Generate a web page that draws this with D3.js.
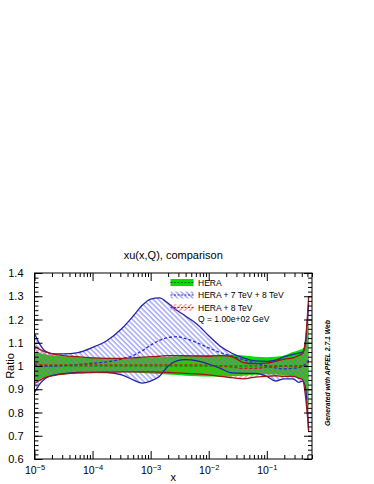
<!DOCTYPE html>
<html lang="en">
<head>
<meta charset="utf-8">
<title>xu(x,Q), comparison</title>
<script src="https://cdn.jsdelivr.net/npm/d3@7"></script>
<style>
  body { margin: 0; background: #fff; }
  text { font-family: "Liberation Sans", Arial, sans-serif; fill: #000; }
</style>
</head>
<body>
<script>
// x grid (log spaced)
var xs = [1e-5, 1.26e-5, 1.58e-5, 2.24e-5, 3.16e-5, 5.62e-5, 1e-4, 1.78e-4, 3.16e-4, 5.01e-4,
          7.08e-4, 1e-3, 1.41e-3, 2e-3, 2.82e-3, 3.98e-3, 6.31e-3, 1e-2, 1.58e-2, 2.51e-2,
          3.98e-2, 6.31e-2, 0.1, 0.141, 0.2, 0.282, 0.355, 0.417, 0.468, 0.525];

// HERA
var heraLo  = [0.930, 0.945, 0.955, 0.962, 0.966, 0.970, 0.972, 0.973, 0.973, 0.972,
               0.970, 0.968, 0.966, 0.963, 0.961, 0.958, 0.956, 0.955, 0.955, 0.956,
               0.958, 0.962, 0.965, 0.963, 0.960, 0.955, 0.950, 0.940, 0.900, 0.810];
var heraMid = [1, 1, 1, 1, 1, 1, 1, 1, 1, 1, 1, 1, 1, 1, 1, 1, 1, 1, 1, 1, 1, 1, 1, 1, 1, 1, 1, 1, 1, 1];
var heraHi  = [1.060, 1.055, 1.050, 1.045, 1.042, 1.038, 1.035, 1.033, 1.032, 1.033,
               1.035, 1.037, 1.038, 1.040, 1.042, 1.044, 1.046, 1.047, 1.048, 1.050,
               1.045, 1.040, 1.038, 1.040, 1.045, 1.060, 1.068, 1.075, 1.110, 1.190];

// HERA + 7 TeV + 8 TeV
var atlLo  = [0.885, 0.925, 0.948, 0.962, 0.967, 0.972, 0.973, 0.972, 0.962, 0.940,
              0.926, 0.935, 0.955, 1.000, 1.022, 1.027, 1.022, 1.008, 0.990, 0.970,
              0.968, 0.968, 0.955, 0.935, 0.945, 0.945, 0.930, 0.935, 0.900, 0.720];
var atlMid = [1.005, 1.000, 1.000, 1.000, 1.002, 1.006, 1.012, 1.018, 1.030, 1.045,
              1.065, 1.090, 1.110, 1.122, 1.126, 1.118, 1.100, 1.078, 1.058, 1.042,
              1.027, 1.012, 1.000, 0.992, 0.988, 0.990, 0.993, 1.000, 1.010, 1.025];
var atlHi  = [1.140, 1.090, 1.062, 1.052, 1.052, 1.058, 1.080, 1.110, 1.160, 1.215,
              1.260, 1.288, 1.293, 1.270, 1.240, 1.215, 1.180, 1.130, 1.085, 1.055,
              1.035, 1.022, 1.020, 1.025, 1.040, 1.050, 1.055, 1.060, 1.110, 1.270];

// HERA + 8 TeV
var cmsLo  = [0.925, 0.940, 0.952, 0.960, 0.965, 0.970, 0.972, 0.974, 0.975, 0.975,
              0.975, 0.975, 0.974, 0.972, 0.970, 0.968, 0.966, 0.962, 0.955, 0.950,
              0.945, 0.952, 0.955, 0.958, 0.955, 0.955, 0.948, 0.940, 0.860, 0.725];
var cmsMid = [1.010, 1.006, 1.005, 1.005, 1.005, 1.005, 1.005, 1.005, 1.005, 1.005,
              1.005, 1.005, 1.005, 1.005, 1.005, 1.005, 1.005, 1.003, 1.000, 0.995,
              0.990, 0.990, 0.995, 1.000, 1.000, 1.000, 1.000, 1.000, 1.000, 1.020];
var cmsHi  = [1.085, 1.070, 1.060, 1.050, 1.045, 1.040, 1.035, 1.033, 1.033, 1.035,
              1.038, 1.040, 1.042, 1.045, 1.045, 1.044, 1.043, 1.042, 1.045, 1.040,
              1.015, 1.010, 1.012, 1.020, 1.030, 1.035, 1.045, 1.055, 1.120, 1.300];

// ticks and labels
var xMajor = [1e-5, 1e-4, 1e-3, 1e-2, 1e-1];
var xExp = ["\u22125", "\u22124", "\u22123", "\u22122", "\u22121"];
var yMajor = [0.6, 0.7, 0.8, 0.9, 1.0, 1.1, 1.2, 1.3, 1.4];
var yLabels = ["0.6", "0.7", "0.8", "0.9", "1", "1.1", "1.2", "1.3", "1.4"];
var legendNames = ["HERA", "HERA + 7 TeV + 8 TeV", "HERA + 8 TeV"];

var w = 374, h = 484;
var pL = 34.5, pR = 312, pT = 273, pB = 459;

var svg = d3.select("body").append("svg").attr("width", w).attr("height", h);

var xScale = d3.scaleLog().domain([1e-5, 0.6]).range([pL, pR]);
var yScale = d3.scaleLinear().domain([0.6, 1.4]).range([pB, pT]);

// hatch patterns
var defs = svg.append("defs");
function hatch(id, color, angle) {
  var p = defs.append("pattern").attr("id", id)
    .attr("patternUnits", "userSpaceOnUse")
    .attr("width", 3.6).attr("height", 4)
    .attr("patternTransform", "rotate(" + angle + ")");
  p.append("line").attr("x1", 1).attr("y1", 0).attr("x2", 1).attr("y2", 4)
    .attr("stroke", color).attr("stroke-width", 0.9);
}
hatch("hBlue", "#6464ee", -45);
hatch("hRed", "#f05a5a", 45);

var clip = defs.append("clipPath").attr("id", "plotclip");
clip.append("rect").attr("x", pL).attr("y", pT).attr("width", pR - pL).attr("height", pB - pT);

var idx = d3.range(xs.length);
var area = function(lo, hi) {
  return d3.area().curve(d3.curveMonotoneX)
    .x(function(i) { return xScale(xs[i]); })
    .y0(function(i) { return yScale(lo[i]); })
    .y1(function(i) { return yScale(hi[i]); });
};
var line = function(v) {
  return d3.line().curve(d3.curveMonotoneX)
    .x(function(i) { return xScale(xs[i]); })
    .y(function(i) { return yScale(v[i]); });
};

var plot = svg.append("g").attr("clip-path", "url(#plotclip)");

// HERA band first
plot.append("path").attr("d", area(heraLo, heraHi)(idx)).attr("fill", "#00e000");
plot.append("path").attr("d", area(atlLo, atlHi)(idx)).attr("fill", "url(#hBlue)");
plot.append("path").attr("d", area(cmsLo, cmsHi)(idx)).attr("fill", "url(#hRed)");

plot.append("path").attr("d", line(heraMid)(idx)).attr("fill", "none")
  .attr("stroke", "#007000").attr("stroke-width", 1.2).attr("stroke-dasharray", "3,2");

[atlLo, atlHi].forEach(function(v) {
  plot.append("path").attr("d", line(v)(idx)).attr("fill", "none")
    .attr("stroke", "#2323a8").attr("stroke-width", 1.3);
});
plot.append("path").attr("d", line(atlMid)(idx)).attr("fill", "none")
  .attr("stroke", "#2a2ad0").attr("stroke-width", 1.3).attr("stroke-dasharray", "3,2");

[cmsLo, cmsHi].forEach(function(v) {
  plot.append("path").attr("d", line(v)(idx)).attr("fill", "none")
    .attr("stroke", "#a01414").attr("stroke-width", 1.3);
});
plot.append("path").attr("d", line(cmsMid)(idx)).attr("fill", "none")
  .attr("stroke", "#c02020").attr("stroke-width", 1.3).attr("stroke-dasharray", "3,2");

// frame
svg.append("rect").attr("x", pL).attr("y", pT).attr("width", pR - pL).attr("height", pB - pT)
  .attr("fill", "none").attr("stroke", "#000").attr("stroke-width", 1);

// axes (ticks inward)
var xMinor = xScale.ticks().filter(function(t) { return xMajor.indexOf(t) < 0; });
var yMinor = d3.range(0.6, 1.401, 0.02);

function axisG(axis, tx, ty) {
  var g = svg.append("g").attr("transform", "translate(" + tx + "," + ty + ")").call(axis);
  g.select(".domain").remove();
  g.selectAll("line").attr("stroke", "#000");
  return g;
}
axisG(d3.axisBottom(xScale).tickValues(xMinor).tickSize(-4).tickFormat(""), 0, pB);
axisG(d3.axisTop(xScale).tickValues(xMinor).tickSize(-4).tickFormat(""), 0, pT);
axisG(d3.axisTop(xScale).tickValues(xMajor).tickSize(-8).tickFormat(""), 0, pT);
var gx = axisG(d3.axisBottom(xScale).tickValues(xMajor).tickSize(-8).tickFormat(""), 0, pB);
gx.selectAll(".tick text").each(function(d, i) {
  var t = d3.select(this).attr("font-size", 10.5).attr("font-family", null).attr("y", 15).attr("dy", 0);
  t.append("tspan").text("10");
  t.append("tspan").attr("font-size", 7.5).attr("dy", -4.5).text(xExp[i]);
});

axisG(d3.axisLeft(yScale).tickValues(yMinor).tickSize(-4).tickFormat(""), pL, 0);
axisG(d3.axisRight(yScale).tickValues(yMinor).tickSize(-4).tickFormat(""), pR, 0);
axisG(d3.axisRight(yScale).tickValues(yMajor).tickSize(-8).tickFormat(""), pR, 0);
var gy = axisG(d3.axisLeft(yScale).tickValues(yMajor).tickSize(-8).tickPadding(11)
  .tickFormat(function(d, i) { return yLabels[i]; }), pL, 0);
gy.selectAll(".tick text").attr("font-size", 11).attr("font-family", null);

// titles
svg.append("text").attr("x", (pL + pR) / 2).attr("y", 259).attr("text-anchor", "middle")
  .attr("font-size", 11).text("xu(x,Q), comparison");
svg.append("text").attr("x", (pL + pR) / 2).attr("y", 481).attr("text-anchor", "middle")
  .attr("font-size", 11).text("x");
svg.append("text").attr("transform", "translate(14," + (pT + pB) / 2 + ") rotate(-90)")
  .attr("text-anchor", "middle").attr("font-size", 11).text("Ratio");
svg.append("text").attr("transform", "translate(330,373) rotate(-90)")
  .attr("text-anchor", "middle").attr("font-size", 6.8).attr("font-weight", "bold")
  .attr("font-style", "italic").text("Generated with APFEL 2.7.1 Web");

// legend
var legFill = ["#00e000", "url(#hBlue)", "url(#hRed)"];
var legLine = ["#007000", "#2a2ad0", "#c02020"];
var legY = [282.5, 295, 307.5];
legendNames.forEach(function(name, i) {
  svg.append("rect").attr("x", 170.5).attr("y", legY[i] - 3.5).attr("width", 23).attr("height", 7)
    .attr("fill", legFill[i]);
  svg.append("line").attr("x1", 170.5).attr("x2", 193.5).attr("y1", legY[i]).attr("y2", legY[i])
    .attr("stroke", legLine[i]).attr("stroke-width", 1.2).attr("stroke-dasharray", "2,1.5");
  svg.append("text").attr("x", 198).attr("y", legY[i] + 3).attr("font-size", 8.5).text(name);
});
svg.append("text").attr("x", 198).attr("y", 322).attr("font-size", 8.5).text("Q = 1.00e+02 GeV");
</script>
</body>
</html>
